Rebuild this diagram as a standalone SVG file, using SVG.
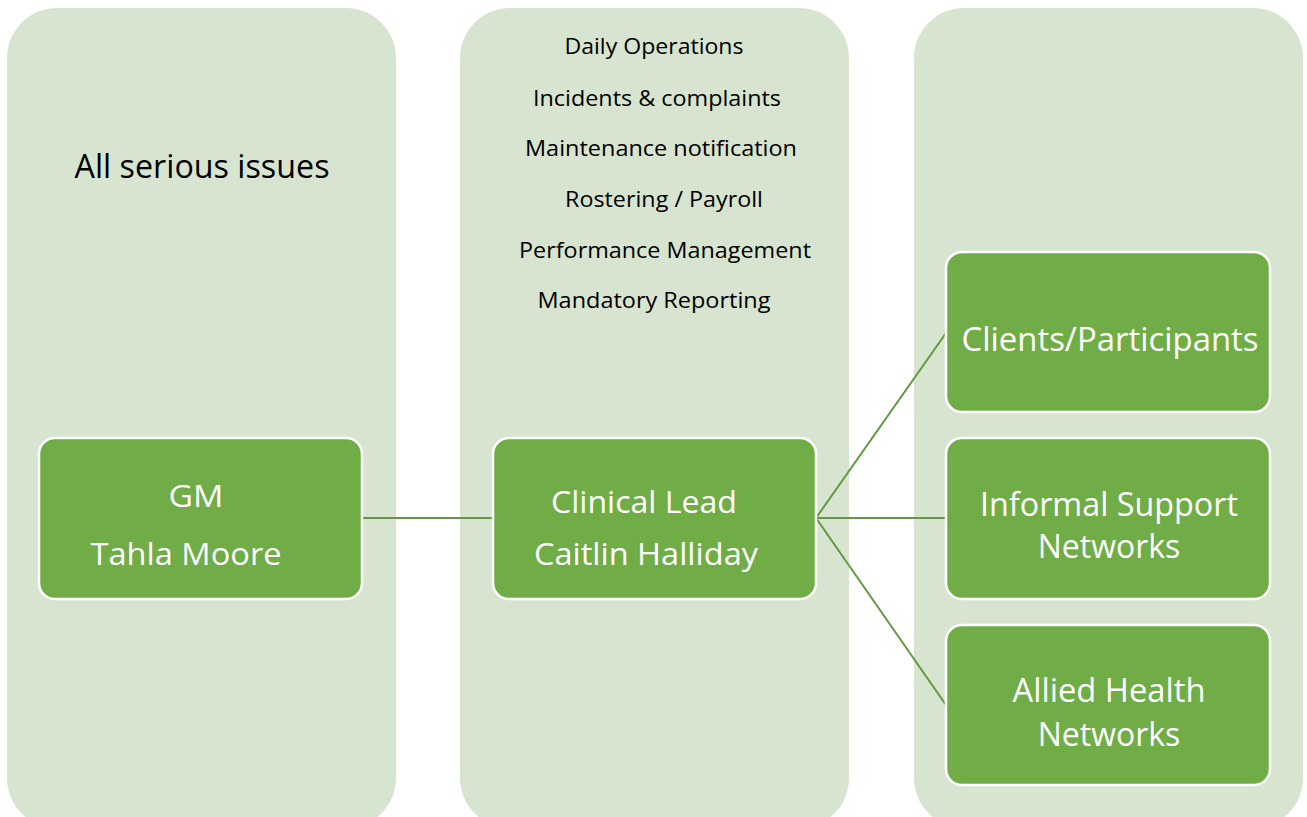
<svg xmlns="http://www.w3.org/2000/svg" width="1307" height="817" viewBox="0 0 1307 817">
<style>
.col{fill:#d7e4cf}
.node{fill:#70ad47;stroke:#ffffff;stroke-width:2.5}
.wt{fill:#ffffff;font-family:"Open Sans","Liberation Sans",sans-serif;text-anchor:middle}
.bt{fill:#000000;font-family:"Open Sans","Liberation Sans",sans-serif;text-anchor:middle}
.con{stroke:#5f9a3e;stroke-width:2;fill:none}
</style>
<rect width="1307" height="817" fill="#ffffff"/>
<g id="col1"><rect class="col" x="7" y="8" width="389" height="820" rx="50"/>
<text class="bt" x="202" y="178" font-size="32" textLength="255" lengthAdjust="spacingAndGlyphs">All serious issues</text></g>
<g id="col2"><rect class="col" x="460" y="8" width="389" height="820" rx="50"/>
<g class="bt" font-size="22">
<text x="654" y="54" textLength="179" lengthAdjust="spacingAndGlyphs">Daily Operations</text>
<text x="657" y="106" textLength="248" lengthAdjust="spacingAndGlyphs">Incidents &amp; complaints</text>
<text x="661" y="156" textLength="272" lengthAdjust="spacingAndGlyphs">Maintenance notification</text>
<text x="664" y="207" textLength="198" lengthAdjust="spacingAndGlyphs">Rostering / Payroll</text>
<text x="665" y="258" textLength="292" lengthAdjust="spacingAndGlyphs">Performance Management</text>
<text x="654" y="308" textLength="233" lengthAdjust="spacingAndGlyphs">Mandatory Reporting</text>
</g></g>
<g id="col3"><rect class="col" x="914" y="8" width="389" height="820" rx="50"/></g>
<g id="connectors">
<line class="con" x1="362" y1="518" x2="493" y2="518"/>
<line class="con" x1="816" y1="518" x2="946" y2="333"/>
<line class="con" x1="816" y1="518" x2="946" y2="518"/>
<line class="con" x1="816" y1="518" x2="946" y2="705"/>
</g>
<g id="gm"><rect class="node" x="39" y="438" width="323" height="161" rx="16"/>
<text class="wt" font-size="31" x="196" y="507" textLength="55" lengthAdjust="spacingAndGlyphs">GM</text>
<text class="wt" font-size="31" x="186" y="565" textLength="191" lengthAdjust="spacingAndGlyphs">Tahla Moore</text></g>
<g id="clinical"><rect class="node" x="493" y="438" width="323" height="161" rx="16"/>
<text class="wt" font-size="31" x="644" y="513" textLength="186" lengthAdjust="spacingAndGlyphs">Clinical Lead</text>
<text class="wt" font-size="31" x="646" y="565" textLength="224" lengthAdjust="spacingAndGlyphs">Caitlin Halliday</text></g>
<g id="clients"><rect class="node" x="946" y="252" width="324" height="160" rx="16"/>
<text class="wt" font-size="32.8" x="1110" y="351" textLength="297" lengthAdjust="spacingAndGlyphs">Clients/Participants</text></g>
<g id="informal"><rect class="node" x="946" y="438" width="324" height="161" rx="16"/>
<text class="wt" font-size="32" x="1109" y="516" textLength="258" lengthAdjust="spacingAndGlyphs">Informal Support</text>
<text class="wt" font-size="32" x="1109" y="558">Networks</text></g>
<g id="allied"><rect class="node" x="946" y="625" width="324" height="160" rx="16"/>
<text class="wt" font-size="32" x="1109" y="702" textLength="193" lengthAdjust="spacingAndGlyphs">Allied Health</text>
<text class="wt" font-size="32" x="1109" y="746">Networks</text></g>
</svg>
